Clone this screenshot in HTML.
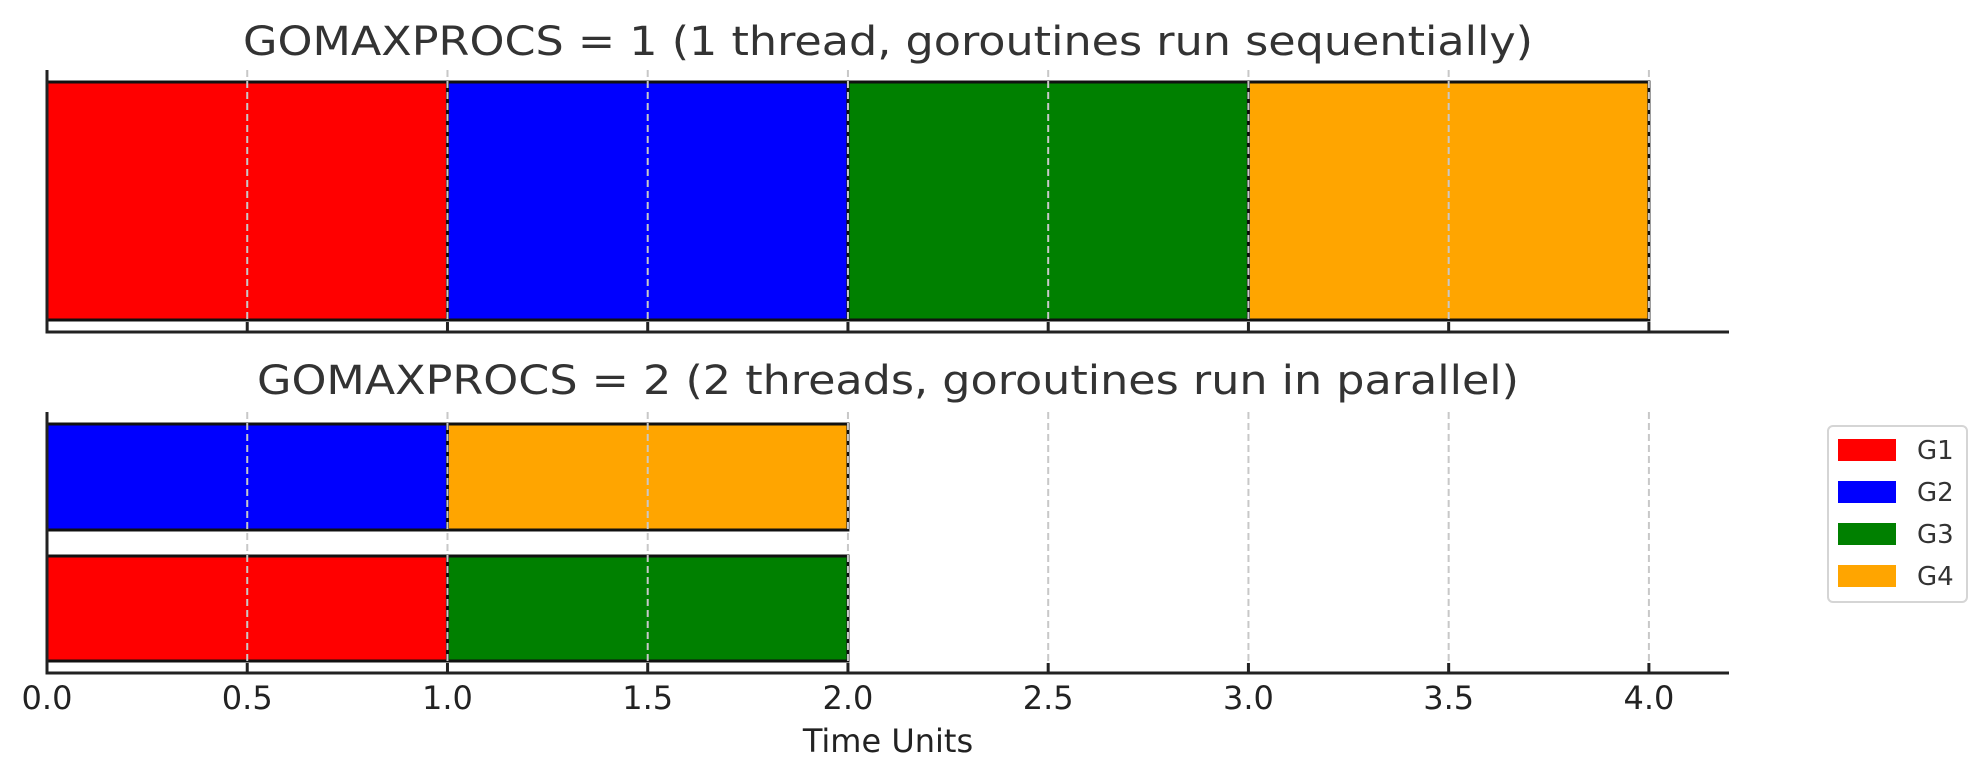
<!DOCTYPE html>
<html><head><meta charset="utf-8"><style>
html,body{margin:0;padding:0;background:#fff;}
svg{display:block;font-family:"DejaVu Sans","Liberation Sans",sans-serif;}
</style></head><body>
<svg id="chart" width="1986" height="780" viewBox="0 0 1986 780" xmlns="http://www.w3.org/2000/svg">
<text x="888" y="55" font-size="40" fill="#333" text-anchor="middle" textLength="1290" lengthAdjust="spacingAndGlyphs">GOMAXPROCS = 1 (1 thread, goroutines run sequentially)</text>
<text x="888" y="394" font-size="40" fill="#333" text-anchor="middle" textLength="1262" lengthAdjust="spacingAndGlyphs">GOMAXPROCS = 2 (2 threads, goroutines run in parallel)</text>
<text x="888" y="752" font-size="32" fill="#222" text-anchor="middle">Time Units</text>
<g id="legend">
<rect x="1828" y="426" width="139" height="176" rx="5" fill="#fff" stroke="#d5d5d5" stroke-width="2"/>
</g>
</svg>
<script>
const goroutines = ["G1", "G2", "G3", "G4"];
const colors = ["red", "blue", "green", "orange"];
// top: sequential, one thread
const seqTask = ["G1", "G2", "G3", "G4"];
const seqStart = [0, 1, 2, 3];
const seqDur = [1, 1, 1, 1];
// bottom: parallel, two threads (row 0 = lower bar)
const parTask = ["G1", "G3", "G2", "G4"];
const parRow = [0, 0, 1, 1];
const parStart = [0, 1, 0, 1];
const parDur = [1, 1, 1, 1];
const xTicks = [0, 0.5, 1, 1.5, 2, 2.5, 3, 3.5, 4];
const xTickLabels = ["0.0", "0.5", "1.0", "1.5", "2.0", "2.5", "3.0", "3.5", "4.0"];
const xMax = 4.2;

const svg = document.getElementById('chart');
const NS = 'http://www.w3.org/2000/svg';
const X0 = 47, X1 = 1729;
const xs = v => X0 + (v / xMax) * (X1 - X0);
function mk(tag, attrs, parent) {
  const e = document.createElementNS(NS, tag);
  for (const k in attrs) e.setAttribute(k, attrs[k]);
  (parent || svg).appendChild(e);
  return e;
}
function axes(name) {
  const g = mk('g', {});
  
  
  return g;
}
function grid(g, top, bottom) {
  xTicks.forEach(t => {
    const gl = mk('line', {x1: xs(t), x2: xs(t), y1: top, y2: bottom, stroke: '#c8c8c8', 'stroke-width': 2, 'stroke-dasharray': '7,4'}, g);
    
    
  });
}
function spines(g, top, bottom, labels) {
  xTicks.forEach((t, i) => {
    const tk = mk('line', {x1: xs(t), x2: xs(t), y1: bottom - 10, y2: bottom, stroke: '#222', 'stroke-width': 3}, g);
    
    
    if (labels) {
      const tl = mk('text', {x: xs(t), y: bottom + 36, 'font-size': 32, fill: '#222', 'text-anchor': 'middle'}, g);
      tl.textContent = xTickLabels[i];
      
      
    }
  });
  const ls = mk('line', {x1: X0, x2: X0, y1: top, y2: bottom + 1.5, stroke: '#222', 'stroke-width': 3}, g);
  
  
  const bs = mk('line', {x1: X0 - 1.5, x2: X1, y1: bottom, y2: bottom, stroke: '#222', 'stroke-width': 3}, g);
  
  
}
function bar(g, task, start, dur, y0, y1) {
  const r = mk('rect', {x: xs(start), y: y0, width: xs(start + dur) - xs(start), height: y1 - y0,
    fill: colors[goroutines.indexOf(task)], stroke: '#111', 'stroke-width': 3}, g);
  
  
}
// top axes
const gt = axes('top-axes');
seqTask.forEach((t, i) => bar(gt, t, seqStart[i], seqDur[i], 82, 320));
grid(gt, 70, 332);
spines(gt, 70, 332, false);
// bottom axes
const gb = axes('bottom-axes');
const rowY = [[556, 661], [424, 530]];
parTask.forEach((t, i) => bar(gb, t, parStart[i], parDur[i], rowY[parRow[i]][0], rowY[parRow[i]][1]));
grid(gb, 412, 673);
spines(gb, 412, 673, true);
// legend
const lg = document.getElementById('legend');
goroutines.forEach((name, i) => {
  const y = 439 + i * 42;
  const p = mk('rect', {x: 1838, y: y, width: 58, height: 22, fill: colors[i]}, lg);
  
  
  const t = mk('text', {x: 1917, y: y + 20, 'font-size': 26, fill: '#333'}, lg);
  t.textContent = name;
  
  
});
</script>
</body></html>
